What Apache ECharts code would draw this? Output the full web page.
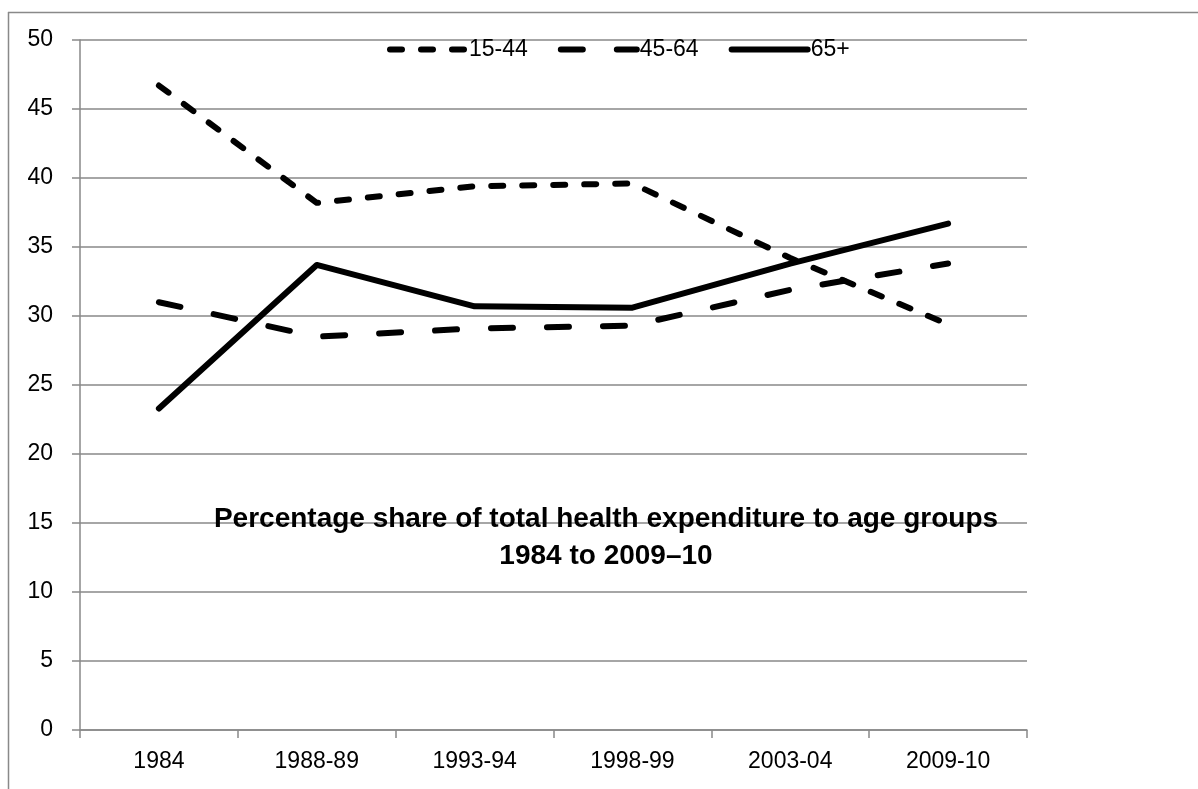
<!DOCTYPE html>
<html>
<head>
<meta charset="utf-8">
<script src="https://cdn.jsdelivr.net/npm/echarts@6/dist/echarts.min.js"></script>
<style>
  html, body { margin: 0; padding: 0; background: #fff; }
  #chart { width: 1198px; height: 789px; }
</style>
</head>
<body>
<div id="chart"></div>
<script>
// data
var years = ['1984', '1988-89', '1993-94', '1998-99', '2003-04', '2009-10'];
var age15to44 = [46.7, 38.2, 39.4, 39.6, 34.2, 29.4];
var age45to64 = [31.0, 28.5, 29.1, 29.3, 31.9, 33.8];
var age65plus = [23.3, 33.7, 30.7, 30.6, 33.8, 36.7];

var font = 'Liberation Sans, Arial, sans-serif';
var grey = '#898989';

var chart = echarts.init(document.getElementById('chart'));

function lineSeries(name, values, dash) {
  return {
    name: name,
    type: 'line',
    data: values,
    symbol: 'none',
    smooth: false,
    lineStyle: { color: '#000', width: 6, type: dash, cap: 'round', join: 'round' },
    itemStyle: { color: '#000' }
  };
}

var option = {
  animation: false,
  backgroundColor: '#fff',
  title: {
    text: 'Percentage share of total health expenditure to age groups\n1984 to 2009–10',
    left: 606,
    top: 501,
    textAlign: 'center',
    padding: 0,
    textStyle: { fontFamily: font, fontSize: 28, fontWeight: 'bold', color: '#000', lineHeight: 37 }
  },
  legend: {
    left: 387,
    top: 38,
    padding: 0,
    itemGap: 30,
    itemWidth: 76,
    itemHeight: 14,
    lineStyle: { width: 6 },
    itemStyle: { opacity: 0 },
    textStyle: { fontFamily: font, fontSize: 23, color: '#000', padding: [0, 0, 0, -2] },
    data: ['15-44', '45-64', '65+']
  },
  grid: { left: 80, right: 171, top: 40, bottom: 59, containLabel: false },
  xAxis: {
    type: 'category',
    data: years,
    boundaryGap: true,
    axisLine: { lineStyle: { color: grey, width: 1.5 } },
    axisTick: { show: true, length: 8, alignWithLabel: false, lineStyle: { color: grey, width: 1.5 } },
    axisLabel: { fontFamily: font, fontSize: 23, color: '#000', margin: 20 },
    splitLine: { show: false }
  },
  yAxis: {
    type: 'value',
    min: 0,
    max: 50,
    interval: 5,
    axisLine: { show: true, lineStyle: { color: grey, width: 1.5 } },
    axisTick: { show: true, length: 8, lineStyle: { color: grey, width: 1.5 } },
    axisLabel: { fontFamily: font, fontSize: 23, color: '#000', margin: 27 },
    splitLine: { lineStyle: { color: grey, width: 1.5 } }
  },
  graphic: [
    { type: 'line', shape: { x1: 8.5, y1: 12, x2: 8.5, y2: 789 }, style: { stroke: grey, lineWidth: 1.5 } },
    { type: 'line', shape: { x1: 8, y1: 12.5, x2: 1198, y2: 12.5 }, style: { stroke: grey, lineWidth: 1.5 } }
  ],
  series: [
    lineSeries('15-44', age15to44, [12, 19]),
    lineSeries('45-64', age45to64, [22, 34]),
    lineSeries('65+', age65plus, 'solid')
  ]
};

chart.setOption(option);
</script>
</body>
</html>
